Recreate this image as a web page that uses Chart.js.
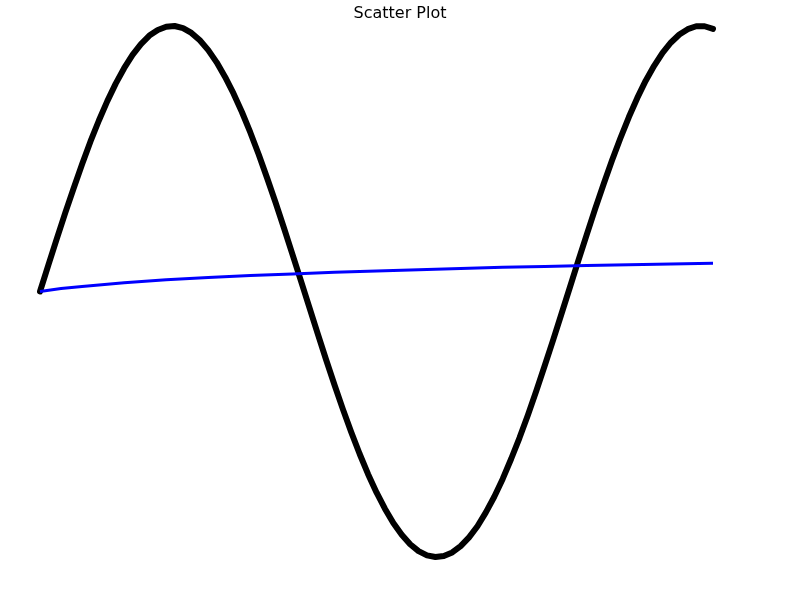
<!DOCTYPE html>
<html>
<head>
<meta charset="utf-8">
<script src="https://cdn.jsdelivr.net/npm/chart.js@4"></script>
<style>
  html, body { margin: 0; padding: 0; background: #fff; }
  #wrap { width: 800px; height: 600px; }
</style>
</head>
<body>
<div id="wrap"><canvas id="chart" width="800" height="600"></canvas></div>
<script>
// black series (wave through 0..8)
const waveX = [0, 0.1, 0.2, 0.3, 0.4, 0.5, 0.6, 0.7, 0.8, 0.9,
  1.0, 1.1, 1.2, 1.3, 1.4, 1.5, 1.6, 1.7, 1.8, 1.9,
  2.0, 2.1, 2.2, 2.3, 2.4, 2.5, 2.6, 2.7, 2.8, 2.9,
  3.0, 3.1, 3.2, 3.3, 3.4, 3.5, 3.6, 3.7, 3.8, 3.9,
  4.0, 4.1, 4.2, 4.3, 4.4, 4.5, 4.6, 4.7, 4.8, 4.9,
  5.0, 5.1, 5.2, 5.3, 5.4, 5.5, 5.6, 5.7, 5.8, 5.9,
  6.0, 6.1, 6.2, 6.3, 6.4, 6.5, 6.6, 6.7, 6.8, 6.9,
  7.0, 7.1, 7.2, 7.3, 7.4, 7.5, 7.6, 7.7, 7.8, 7.9, 8.0];
const waveY = [0, 0.100, 0.199, 0.296, 0.389, 0.479, 0.565, 0.644, 0.717, 0.783,
  0.841, 0.891, 0.932, 0.964, 0.985, 0.997, 1.000, 0.992, 0.974, 0.946,
  0.909, 0.863, 0.808, 0.746, 0.676, 0.599, 0.516, 0.427, 0.335, 0.239,
  0.141, 0.042, -0.058, -0.158, -0.256, -0.351, -0.443, -0.530, -0.612, -0.688,
  -0.757, -0.818, -0.872, -0.916, -0.952, -0.978, -0.994, -1.000, -0.996, -0.983,
  -0.959, -0.926, -0.884, -0.832, -0.773, -0.706, -0.631, -0.551, -0.465, -0.374,
  -0.279, -0.182, -0.083, 0.017, 0.117, 0.215, 0.312, 0.405, 0.494, 0.578,
  0.657, 0.729, 0.794, 0.850, 0.899, 0.938, 0.968, 0.988, 0.999, 0.999, 0.989];

// blue series: slow rise from 0 to about 0.1
const slowX = [0, 0.25, 0.5, 1, 1.5, 2, 2.5, 3, 3.5, 4, 4.5, 5, 5.5, 6, 6.5, 7, 7.5, 8];
const slowY = [0, 0.011, 0.019, 0.033, 0.044, 0.053, 0.060, 0.066, 0.072, 0.077,
  0.082, 0.087, 0.091, 0.094, 0.098, 0.101, 0.104, 0.106];

const toPoints = (xs, ys) => xs.map((x, i) => ({x: x, y: ys[i]}));

new Chart(document.getElementById('chart'), {
  type: 'scatter',
  data: {
    datasets: [{
      label: 'slow',
      data: toPoints(slowX, slowY),
      showLine: true,
      borderColor: 'rgb(0, 0, 255)',
      borderWidth: 3,
      pointRadius: 0,
      clip: false,
    }, {
      label: 'wave',
      data: toPoints(waveX, waveY),
      showLine: true,
      borderColor: '#000',
      borderWidth: 6,
      borderCapStyle: 'round',
      borderJoinStyle: 'round',
      pointRadius: 0,
      clip: false,
    }]
  },
  options: {
    responsive: false,
    animation: false,
    layout: { padding: 0 },
    plugins: {
      legend: { display: false },
      tooltip: { enabled: false },
      title: {
        display: true,
        text: 'Scatter Plot',
        color: '#000',
        font: { family: 'DejaVu Sans', size: 16, weight: 'normal' },
        padding: { top: 4, bottom: 0 },
      },
    },
    scales: {
      x: { type: 'linear', display: false, min: -0.4755, max: 9.034 },
      y: { type: 'linear', display: false, min: -1.162, max: 1.0105 },
    },
  },
});
</script>
</body>
</html>
